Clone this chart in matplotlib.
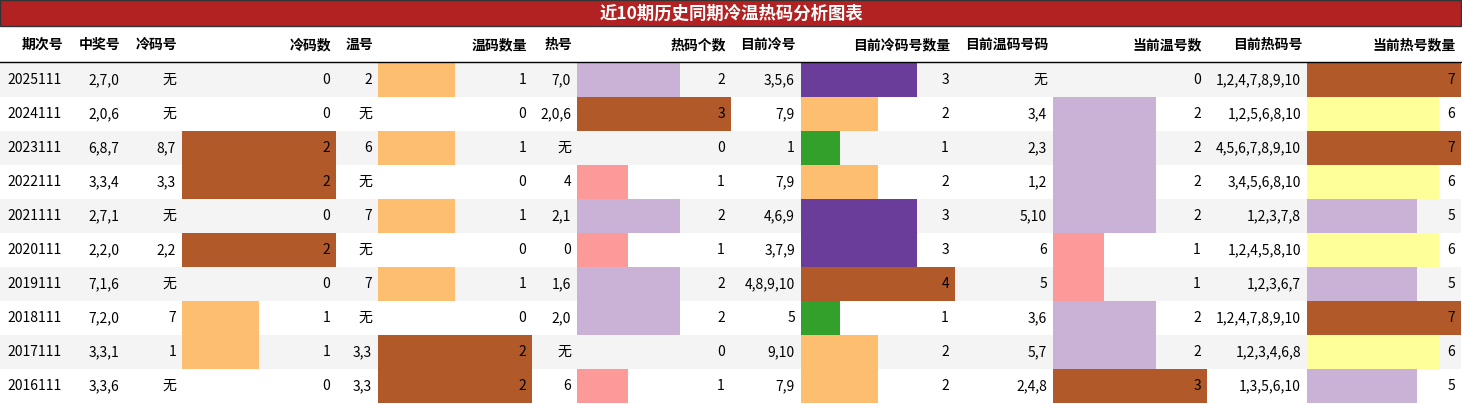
import matplotlib.pyplot as plt
from matplotlib.patches import Rectangle

plt.rcParams['font.family'] = ['Noto Sans CJK SC', 'DejaVu Sans']

title = '近10期历史同期冷温热码分析图表'
headers = ['期次号', '中奖号', '冷码号', '冷码数', '温号', '温码数量', '热号', '热码个数',
           '目前冷号', '目前冷码号数量', '目前温码号码', '当前温号数', '目前热码号', '当前热号数量']

periods = ['2025111', '2024111', '2023111', '2022111', '2021111', '2020111', '2019111', '2018111', '2017111', '2016111']
win = ['2,7,0', '2,0,6', '6,8,7', '3,3,4', '2,7,1', '2,2,0', '7,1,6', '7,2,0', '3,3,1', '3,3,6']
cold = ['无', '无', '8,7', '3,3', '无', '2,2', '无', '7', '1', '无']
cold_n = [0, 0, 2, 2, 0, 2, 0, 1, 1, 0]
warm = ['2', '无', '6', '无', '7', '无', '7', '无', '3,3', '3,3']
warm_n = [1, 0, 1, 0, 1, 0, 1, 0, 2, 2]
hot = ['7,0', '2,0,6', '无', '4', '2,1', '0', '1,6', '2,0', '无', '6']
hot_n = [2, 3, 0, 1, 2, 1, 2, 2, 0, 1]
cur_cold = ['3,5,6', '7,9', '1', '7,9', '4,6,9', '3,7,9', '4,8,9,10', '5', '9,10', '7,9']
cur_cold_n = [3, 2, 1, 2, 3, 3, 4, 1, 2, 2]
cur_warm = ['无', '3,4', '2,3', '1,2', '5,10', '6', '5', '3,6', '5,7', '2,4,8']
cur_warm_n = [0, 2, 2, 2, 2, 1, 1, 2, 2, 3]
cur_hot = ['1,2,4,7,8,9,10', '1,2,5,6,8,10', '4,5,6,7,8,9,10', '3,4,5,6,8,10', '1,2,3,7,8',
           '1,2,4,5,8,10', '1,2,3,6,7', '1,2,4,7,8,9,10', '1,2,3,4,6,8', '1,3,5,6,10']
cur_hot_n = [7, 6, 7, 6, 5, 6, 5, 7, 6, 5]

columns = [periods, win, cold, cold_n, warm, warm_n, hot, hot_n,
           cur_cold, cur_cold_n, cur_warm, cur_warm_n, cur_hot, cur_hot_n]

# colours for bar values per bar column
ORANGE, BROWN, PINK, LAV, GREEN, PURPLE, YELLOW = '#fdbf6f', '#b15928', '#fb9a99', '#cab2d6', '#33a02c', '#6a3d9a', '#ffff99'
bar_colors = {
    3: {1: ORANGE, 2: BROWN},
    5: {1: ORANGE, 2: BROWN},
    7: {1: PINK, 2: LAV, 3: BROWN},
    9: {1: GREEN, 2: ORANGE, 3: PURPLE, 4: BROWN},
    11: {1: PINK, 2: LAV, 3: BROWN},
    13: {5: LAV, 6: YELLOW, 7: BROWN},
}

edges = [0, 68, 125, 182, 336, 378, 532, 577, 731, 801, 955, 1053, 1207, 1307, 1461]
W, H = 1462, 404
row_top, row_h = 63, 34

fig = plt.figure(figsize=(W / 100, H / 100), dpi=100)
ax = fig.add_axes([0, 0, 1, 1])
ax.set_xlim(0, W)
ax.set_ylim(H, 0)
ax.axis('off')

# title bar
ax.add_patch(Rectangle((0, 0), 1461, 26, facecolor='#b22222', edgecolor='#333333', lw=1))
ax.text(731, 14, title, ha='center', va='center', color='white', fontsize=12.5, fontweight='bold')

# header
for j, h in enumerate(headers):
    ax.text(edges[j + 1] - 5, 45, h, ha='right', va='center', fontsize=10, fontweight='bold')
ax.plot([0, 1461], [62, 62], color='black', lw=1)

for i in range(len(periods)):
    y0 = row_top + i * row_h
    if i % 2 == 0:
        ax.add_patch(Rectangle((0, y0), 1461, row_h, facecolor='#f4f4f4', lw=0))
    for j, col in enumerate(columns):
        v = col[i]
        if j in bar_colors:
            vmax = max(col)
            if v > 0:
                w = (edges[j + 1] - edges[j]) * v / vmax
                ax.add_patch(Rectangle((edges[j], y0), w, row_h, facecolor=bar_colors[j][v], lw=0))
        ax.text(edges[j + 1] - 6, y0 + row_h / 2, str(v), ha='right', va='center', fontsize=10)

fig.savefig('out.png', dpi=100)
